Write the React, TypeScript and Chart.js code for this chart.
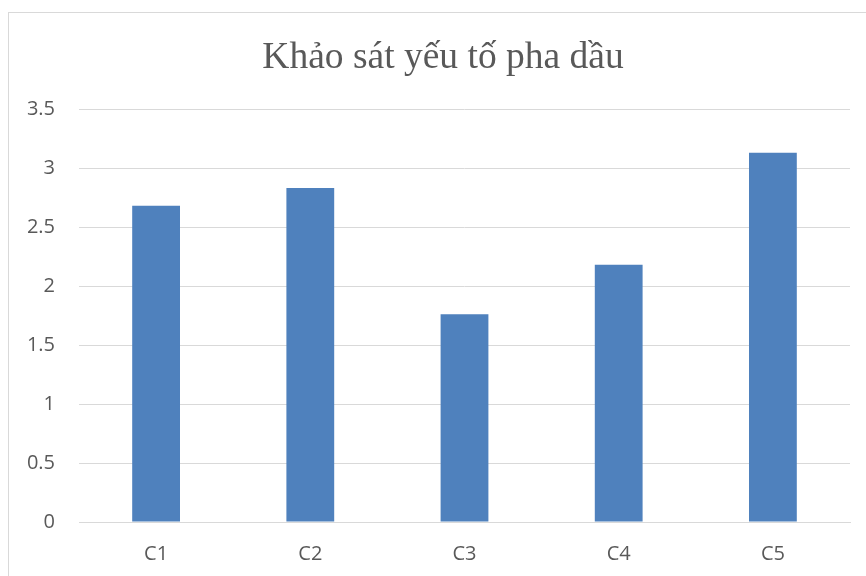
import React, { useEffect, useRef } from "react";
import { Chart, registerables } from "chart.js";

Chart.register(...registerables);

const categories = ["C1", "C2", "C3", "C4", "C5"];
const values = [2.68, 2.83, 1.76, 2.18, 3.13];
const titleText = "Khảo sát yếu tố pha dầu";
const yMin = 0;
const yMax = 3.5;
const yStep = 0.5;

const titleShift = {
  id: "titleShift",
  afterLayout(chart: any) {
    const tb = chart.titleBlock;
    if (tb) {
      tb.left = 36;
      tb.right = 850;
    }
  },
};

export default function App() {
  const ref = useRef<HTMLCanvasElement | null>(null);

  useEffect(() => {
    if (!ref.current) return;
    const chart = new Chart(ref.current, {
      type: "bar",
      data: {
        labels: categories,
        datasets: [
          {
            data: values,
            backgroundColor: "#4f81bd",
            borderWidth: 0,
            categoryPercentage: 1,
            barPercentage: 0.31,
          },
        ],
      },
      plugins: [titleShift],
      options: {
        responsive: false,
        animation: false,
        layout: { padding: { left: 0, right: 16, top: 0, bottom: 0 } },
        plugins: {
          legend: { display: false },
          tooltip: { enabled: false },
          title: {
            display: true,
            text: titleText,
            color: "#595959",
            font: { family: "'Liberation Serif', 'Times New Roman', serif", size: 37.5, weight: "normal" },
            padding: { top: 36, bottom: 28 },
          },
        },
        scales: {
          x: {
            afterFit: (scale: any) => {
              scale.height = 54;
            },
            grid: { display: false, drawTicks: false },
            border: { display: true, color: "#d9d9d9", width: 1 },
            ticks: {
              color: "#595959",
              font: { family: "'Open Sans', sans-serif", size: 20 },
              padding: 20,
            },
          },
          y: {
            min: yMin,
            max: yMax,
            afterFit: (scale: any) => {
              scale.width = 79;
            },
            grid: { color: "#d9d9d9", lineWidth: 1, drawTicks: false },
            border: { display: false },
            ticks: {
              stepSize: yStep,
              color: "#595959",
              font: { family: "'Open Sans', sans-serif", size: 20 },
              padding: 24,
              callback: (v: any) => String(Number(v)),
            },
          },
        },
      },
    });
    return () => chart.destroy();
  }, []);

  return (
    <div style={{ position: "absolute", left: 0, top: 0, width: 866, height: 576, overflow: "hidden", background: "#fff" }}>
      <div
        style={{
          position: "absolute",
          left: 8,
          top: 12,
          width: 900,
          height: 600,
          border: "1px solid #d9d9d9",
        }}
      />
      <canvas ref={ref} width={866} height={576} style={{ position: "absolute", left: 0, top: 0 }} />
    </div>
  );
}
